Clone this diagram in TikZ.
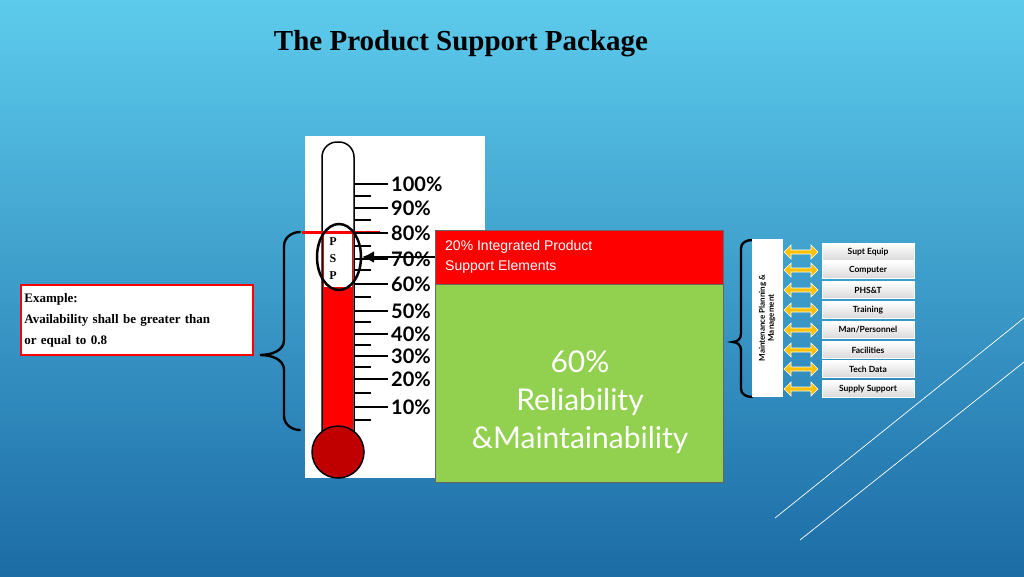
\documentclass[tikz,border=0pt]{standalone}
\usepackage{fontspec}
\setmainfont{Liberation Serif}
\newfontfamily\gothic{Lato}
\newfontfamily\arialf{Liberation Sans}
\usetikzlibrary{shapes.geometric,shapes.arrows,arrows.meta}
\definecolor{bgtop}{HTML}{5DCBEC}
\definecolor{bgbot}{HTML}{1C6CA6}
\definecolor{pgreen}{HTML}{92D050}
\definecolor{pred}{HTML}{FF0000}
\definecolor{bulbred}{HTML}{C00000}
\definecolor{arrowyellow}{HTML}{FFC000}
\tikzset{
  longtick/.style={line width=2.2pt},
  pct/.style={anchor=west,font=\gothic\bfseries\fontsize{20}{20}\selectfont,inner sep=0pt},
  elembox/.style={draw=white,line width=1pt,top color=white,bottom color=gray!30,
    minimum width=92pt,minimum height=17pt,inner sep=0pt,font=\gothic\bfseries\fontsize{8.5}{9}\selectfont},
  dblarrow/.style={double arrow,fill=arrowyellow,draw=white,line width=0.6pt,
    minimum width=14pt,minimum height=34pt,double arrow head extend=2pt,inner sep=0.5pt},
  bracket/.style={line width=2.4pt,line cap=round}
}
\begin{document}
\begin{tikzpicture}[x=1pt,y=-1pt]
    % background
    \shade[top color=bgtop,bottom color=bgbot] (0,0) rectangle (1024,576);
    \useasboundingbox (0,0) rectangle (1024,576);
    \draw[white,line width=0.7pt] (775,518) -- (1024,318);
    \draw[white,line width=0.7pt] (800,540) -- (1024,362);

    % title
    \node[font=\bfseries\fontsize{29}{29}\selectfont] (title) at (461,44) {The Product Support Package};

    % thermometer panel
    \fill[white] (305,136) rectangle (485,478);
    \draw[line width=1.5pt,rounded corners=15pt] (322,437) -- (322,142) -- (354,142) -- (354,437);
    \fill[pred] (323,232) rectangle (353,437);
    \node[circle,draw=black,line width=1.5pt,fill=bulbred,minimum size=52pt] (bulb) at (338,452) {};
    \fill[white] (324,232) rectangle (352,287);
    \draw[pred,line width=3pt] (302,232) -- (380,232);

    % scale
    \foreach \y/\p in {184/100,208/90,233/80,259/70,284/60,311/50,334/40,356/30,379/20,407/10}{
      \draw[longtick] (355,\y) -- (388,\y);
      \node[pct] (p\p) at (391,\y) {\p\%};
    }
    \foreach \y in {196,220,246,270,297,322,345,367,393,420}
      \draw[longtick] (355,\y) -- (371,\y);

    % PSP marker
    \node[ellipse,draw=black,line width=2.5pt,minimum width=44pt,minimum height=66pt] (psp) at (339,257) {};
    \node[font=\bfseries\fontsize{12}{17}\selectfont,align=center,inner sep=0pt] (psptext) at (333,259) {P\\S\\P};

    % percentage blocks
    \node[draw=black!60,fill=pred,minimum width=288pt,minimum height=54pt,inner sep=0pt] (ipse) at (579,257) {};
    \node[anchor=north west,align=left,text=white,font=\arialf\fontsize{14}{20}\selectfont,inner sep=0pt] at (445,240) {20\% Integrated Product\\ Support Elements};
    \node[draw=black!60,fill=pgreen,minimum width=288pt,minimum height=198pt,inner sep=0pt] (rm) at (579,383) {};
    \node[align=center,text=white,font=\gothic\fontsize{30}{38}\selectfont] (rmtext) at (580,402) {60\%\\Reliability\\\&Maintainability};
    \draw[line width=2.5pt,-{Latex[length=12pt,width=12pt]}] (ipse.west) -- (362,257);

    % example
    \node[draw=pred,line width=2pt,fill=white,minimum height=70pt,text width=225pt,
      align=left,anchor=north west,font=\bfseries\fontsize{13}{21}\selectfont] (example) at (20,284)
      {Example:\\Availability shall be greater than\\or equal to 0.8};
    \draw[bracket] (300,232) to[out=180,in=90] (284,246) -- (284,340) to[out=-90,in=0] (260,355)
      to[out=0,in=90] (284,370) -- (284,416) to[out=-90,in=180] (300,430);

    % integrated product support elements
    \draw[bracket] (752,240) to[out=180,in=90] (741,248) -- (741,334) to[out=-90,in=0] (733,342)
      to[out=0,in=90] (741,350) -- (741,389) to[out=-90,in=180] (752,397);
    \node[draw=white,fill=white,minimum width=157pt,minimum height=30pt,rotate=90,inner sep=0pt,
      align=center,font=\gothic\bfseries\fontsize{8}{9}\selectfont] (mpm) at (767,318)
      {Maintenance Planning \&\\Management};
    \foreach \y/\name [count=\i] in {252/Supt Equip,270/Computer,290/PHS\&T,310/Training,330/{Man/Personnel},350/Facilities,369/Tech Data,389/Supply Support}{
      \node[elembox] (e\i) at (868,\y) {\name};
      \node[dblarrow] (a\i) at (801,\y) {};
    }
\end{tikzpicture}
\end{document}
